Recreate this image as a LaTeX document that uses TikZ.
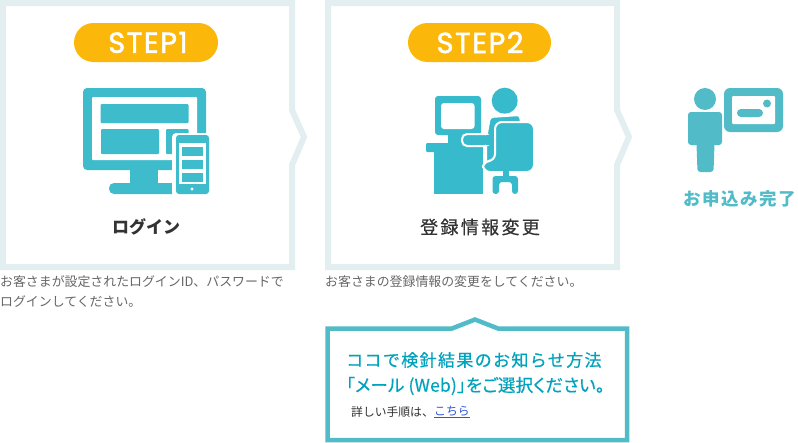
\documentclass[tikz,border=0pt]{standalone}
\usepackage{fontspec}
\newfontfamily\jpfont{Noto Sans CJK JP}
\newfontfamily\jpwide[LetterSpace=13,FakeBold=0.5]{Noto Sans CJK JP}
\newfontfamily\jphead[LetterSpace=8,FakeBold=0.5]{Noto Sans CJK JP}
\newfontfamily\jptight[RawFeature=+palt,LetterSpace=1,FakeBold=0.5]{Noto Sans CJK JP}
\newfontfamily\jpdone[LetterSpace=9]{Noto Sans CJK JP}
\newfontfamily\stepfont[LetterSpace=5,FakeBold=1.6]{Poppins}
\definecolor{framegray}{HTML}{E3EEF1}
\definecolor{pillyellow}{HTML}{FCB80A}
\definecolor{iconteal}{HTML}{3EBCCB}
\definecolor{chairteal}{HTML}{37BBCC}
\definecolor{doneteal}{HTML}{52BBC8}
\definecolor{headteal}{HTML}{00A3BE}
\definecolor{inkdark}{HTML}{333333}
\definecolor{inkgray}{HTML}{666666}
\definecolor{linkblue}{HTML}{2F55DC}

\begin{document}
\begin{tikzpicture}[x=1pt, y=-1pt,
	stepframe/.style={draw=framegray, line width=6pt, miter limit=10},
	steppill/.style={fill=pillyellow, rounded corners=19.5pt},
	steplabel/.style={text=white, font=\stepfont\fontsize{29}{29}\selectfont, inner sep=0pt},
	titlelabel/.style={text=inkdark, font=\jpwide\fontsize{18}{18}\selectfont, inner sep=0pt},
	bodylabel/.style={text=inkgray, font=\jpfont\fontsize{12.9}{20}\selectfont, inner sep=0pt, anchor=west},
	headlabel/.style={text=headteal, font=\jphead\fontsize{17}{17}\selectfont, inner sep=0pt, anchor=west},
	iconpart/.style={fill=iconteal, rounded corners=1pt},
	chairpart/.style={fill=chairteal, draw=white, line width=2pt, rounded corners=3pt},
	donepart/.style={fill=doneteal, rounded corners=3pt},
	blank/.style={fill=white, rounded corners=1pt}]
	\useasboundingbox (0,0) rectangle (798,442);

	\draw [stepframe] (-3,3) -- (292,3) -- (292,110) -- (304,137) -- (292,165) -- (292,267) -- (-3,267);
	\draw [stepframe] (3,0) -- (3,270);
	\draw [stepframe] (328,3) -- (617,3) -- (617,110) -- (629,137) -- (617,165) -- (617,267) -- (328,267) -- cycle;

	\fill [steppill] (74,23) rectangle (218,62);
	\node [steplabel] (step1) at (148,42.5) {STEP1};
	\fill [steppill] (408,23) rectangle (551,62);
	\node [steplabel] (step2) at (480,42.5) {STEP2};

	\fill [iconpart, rounded corners=4pt] (83,88) rectangle (206,170);
	\fill [blank] (92,97) rectangle (197,160);
	\fill [iconpart] (100.5,104) rectangle (188.5,123);
	\fill [iconpart] (101,129) rectangle (159,154);
	\fill [iconpart] (166,129) rectangle (188.5,154);
	\fill [iconteal] (130,168) rectangle (158,184);
	\fill [iconpart, rounded corners=5pt] (109,183) rectangle (180,194);
	\fill [blank, rounded corners=4pt] (172,133) rectangle (212,197);
	\fill [iconpart, rounded corners=3pt] (176,135) rectangle (209,194);
	\fill [white] (179,143) rectangle (206,184);
	\foreach \rowy in {147,160,173}
		\fill [iconteal] (181.5,\rowy) rectangle (203,\rowy+9);
	\fill [white] (192,189) circle [radius=1.6];

	\node [titlelabel, font=\jpfont\bfseries\fontsize{17}{17}\selectfont] (login) at (146,227) {ログイン};
	\node [bodylabel] (logintext) at (0,282) {お客さまが設定されたログインID、パスワードで};
	\node [bodylabel] (logintext2) at (0,302) {ログインしてください。};

	\fill [chairteal, rounded corners=3pt] (435,96) rectangle (481,135);
	\fill [white, rounded corners=3pt] (441,103) rectangle (474.5,129);
	\fill [chairteal] (448,135) rectangle (468,143);
	\fill [chairteal, rounded corners=1pt] (426,143) rectangle (470,152);
	\fill [chairteal] (434,143) rectangle (483,194);
	\fill [chairteal] (504.7,100.7) circle [radius=13];
	\draw [chairpart] (486,163) -- (486,146) -- (487,133) -- (490,117) -- (520,115) -- (526,163) -- cycle;
	\draw [chairpart, rounded corners=5pt] (462,134) -- (490,134) -- (490,146) -- (462,146) -- cycle;
	\fill [chairteal] (486,135) rectangle (495,145);
	\draw [chairpart, rounded corners=7pt] (495,122) -- (534,122) -- (534,172) -- (483,172) -- (483,161) -- (495,161) -- cycle;
	\fill [chairteal] (503,171) rectangle (509,177);
	\fill [chairteal, rounded corners=3pt] (492.5,194) -- (492.5,176) -- (518,176) -- (518,194) -- (512,194) -- (512,182) -- (499,182) -- (499,194) -- cycle;

	\node [titlelabel] (profile) at (480,227) {登録情報変更};
	\node [bodylabel] (profiletext) at (325,282) {お客さまの登録情報の変更をしてください。};

	\fill [doneteal] (705,99) circle [radius=11];
	\fill [donepart] (688,112) rectangle (722,145);
	\fill [donepart] (696,130) -- (715,130) -- (713.5,172) -- (697.5,172) -- cycle;
	\fill [donepart, rounded corners=6pt] (724,88) rectangle (783,132);
	\fill [blank] (732,96) rectangle (775,124);
	\fill [donepart, rounded corners=4pt] (737,109) rectangle (763,117);
	\fill [doneteal] (767,103.5) circle [radius=4];
	\node [titlelabel, text=doneteal, font=\jpdone\bfseries\fontsize{17.5}{17}\selectfont] (done) at (740,199) {お申込み完了};

	\draw [draw=doneteal, line width=4.5pt, fill=white, miter limit=10] (327.5,328.5) -- (452,328.5) -- (475,319.5) -- (498,328.5) -- (627,328.5) -- (627,440) -- (327.5,440) -- cycle;
	\node [headlabel] (notice) at (346,360) {ココで検針結果のお知らせ方法};
	\node [headlabel, font=\jptight\fontsize{17.5}{17}\selectfont] (notice2) at (346,386) {「メール (Web)」をご選択ください。};
	\node [bodylabel, text=inkdark, font=\jpfont\fontsize{11.8}{12}\selectfont] (detail) at (351,412) {詳しい手順は、};
	\node [bodylabel, text=linkblue, font=\jpfont\fontsize{11.8}{12}\selectfont] (detaillink) at (detail.east) {\underline{こちら}};
\end{tikzpicture}
\end{document}
